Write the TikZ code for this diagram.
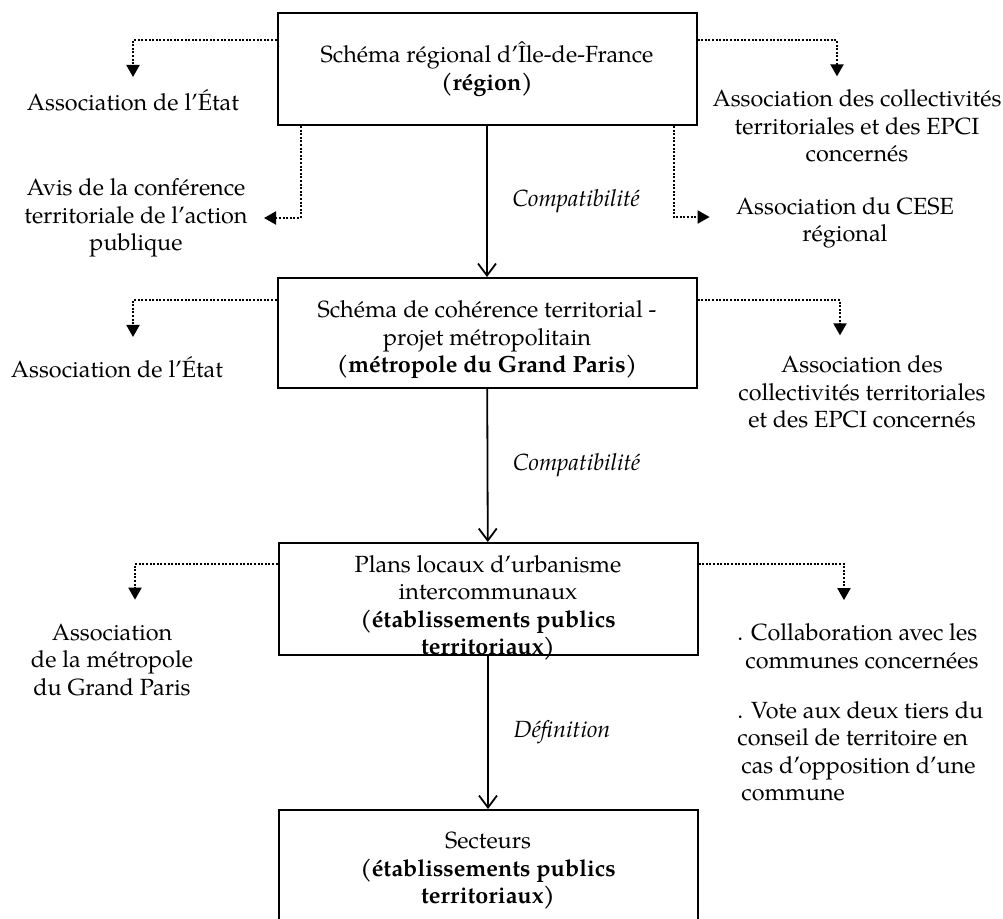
\documentclass[tikz,border=0pt]{standalone}
\usepackage{fontspec}
\setmainfont{TeX Gyre Pagella}
\usetikzlibrary{arrows.meta,positioning}
%% lowers the lines of a box without changing its size
\newcommand{\descendre}[2]{\raisebox{-#1}[\height][\depth]{\parbox{205pt}{\centering #2}}}

\begin{document}
\begin{tikzpicture}[x=0.5pt,y=-0.5pt,
  font=\fontsize{11.7}{13.75}\selectfont,
  etape/.style={draw,line width=1pt,minimum width=209.5pt,align=center,inner sep=0pt},
  acteur/.style={align=center,inner sep=2pt},
  lien/.style={line width=0.9pt,-{Straight Barb[length=6pt,width=9pt]}},
  pointille/.style={line width=1pt,dash pattern=on 1pt off 0.8pt,-{Triangle[length=6pt,width=6.5pt]}},
  mode/.style={font=\fontsize{11.7}{13.75}\selectfont\itshape}]
%% the page is the size of the reference, the last box runs past its lower edge
\useasboundingbox (0,0) rectangle (1003,918);
\clip (0,0) rectangle (1003,918);

%% the four levels
\node [etape, minimum height=56pt] (sdrif) at (487,69) {Schéma régional d'Île-de-France\\\textbf{(région)}};
\node [etape, minimum height=55pt] (scot) at (487,333) {\descendre{3.5pt}{Schéma de cohérence territorial -\\projet métropolitain\\\textbf{(métropole du Grand Paris)}}};
\node [etape, minimum height=56pt] (plui) at (488,599) {\descendre{4.5pt}{Plans locaux d'urbanisme\\intercommunaux\\\textbf{(établissements publics}\\\textbf{territoriaux)}}};
\node [etape, minimum height=61pt] (secteurs) at (488,871) {Secteurs\\\textbf{(établissements publics}\\\textbf{territoriaux)}};

%% who is associated at each level
\node [acteur] (etat1) at (133,100) {Association de l'État};
\node [acteur] (avis) at (136,218) {Avis de la conférence\\territoriale de l'action\\publique};
\node [acteur] (coll1) at (857,126) {Association des collectivités\\territoriales et des EPCI\\concernés};
\node [acteur] (cese) at (845,223) {Association du CESE\\régional};
\node [acteur] (etat2) at (117,367) {Association de l'État};
\node [acteur] (coll2) at (862,392) {Association des\\collectivités territoriales\\et des EPCI concernés};
\node [acteur] (amgp) at (112,660) {Association\\de la métropole\\du Grand Paris};
\node [acteur, align=left, anchor=west] (collab) at (733,646) {. Collaboration avec les\\\hspace{4pt}communes concernées};
\node [acteur, align=left, anchor=west] (vote) at (733,751) {. Vote aux deux tiers du\\conseil de territoire en\\\hspace{2pt}cas d'opposition d'une\\\hspace{2pt}commune};

%% solid links between levels
\draw [lien] (sdrif) -- node [mode, right=9pt] (compat1) {Compatibilité} (scot);
\draw [lien] (scot) -- node [mode, right=9pt] (compat2) {Compatibilité} (plui);
\draw [lien] (plui) -- node [mode, right=9pt] (defin) {Définition} (secteurs);

%% dotted links
\draw [pointille] ([yshift=-14pt]sdrif.north west) -| ([yshift=4pt]etat1.north);
\draw [pointille] ([yshift=-14pt]sdrif.north east) -| ([xshift=-10pt,yshift=4.5pt]coll1.north);
\draw [pointille] ([xshift=12pt]sdrif.south west) |- ([xshift=6pt]avis.east);
\draw [pointille] ([xshift=-12pt]sdrif.south east) |- ([xshift=-11pt,yshift=3pt]cese.west);
\draw [pointille] ([yshift=-11.5pt]scot.north west) -| ([xshift=8pt,yshift=7.5pt]etat2.north);
\draw [pointille] ([yshift=-11.5pt]scot.north east) -| ([xshift=-11pt,yshift=8pt]coll2.north);
\draw [pointille] ([yshift=-11pt]plui.north west) -| ([xshift=11.5pt,yshift=10pt]amgp.north);
\draw [pointille] ([yshift=-11pt]plui.north east) -| ([xshift=-7pt,yshift=9.5pt]collab.north);
\end{tikzpicture}
\end{document}
